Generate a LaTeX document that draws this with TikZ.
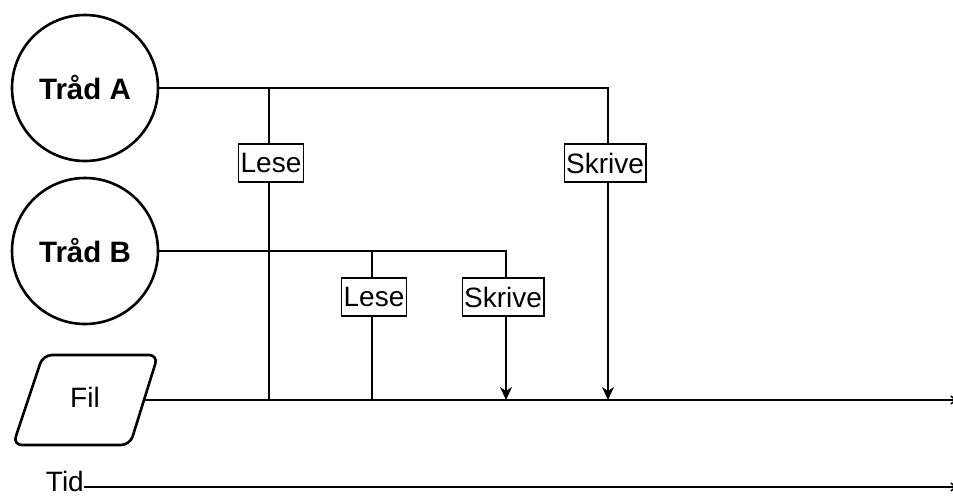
\documentclass[tikz,border=0pt]{standalone}
\usepackage{fontspec}
\setmainfont{Liberation Sans}
\usetikzlibrary{arrows.meta}
\begin{document}
\begin{tikzpicture}[x=1pt,y=-1pt,
  thread/.style={circle,draw,line width=2.6pt,minimum size=146pt,inner sep=0pt,
                 font=\fontsize{29.5}{33}\selectfont\bfseries},
  op/.style={draw,fill=white,line width=1.2pt,inner sep=2pt,minimum height=38pt,
             font=\fontsize{28}{32}\selectfont},
  wire/.style={line width=1.5pt},
  hit/.style={wire,-{Stealth[length=13pt,width=12pt,inset=4pt]}},
  axis/.style={wire,-{Straight Barb[length=5pt,width=8pt]}},
  lbl/.style={font=\fontsize{28}{32}\selectfont,inner sep=0pt}]
\useasboundingbox (0,0) rectangle (953,496);

% threads
\node[thread] (tA) at (85,88) {Tråd A};
\node[thread] (tB) at (85,251) {Tråd B};

% file symbol
\draw[line width=2.6pt,rounded corners=9pt]
  (43,355) -- (158,355) -- (130,445) -- (13,445) -- cycle;
\node[lbl] (fil) at (85,397) {Fil};
\coordinate (filR) at (144,400);
\coordinate (filEnd) at (957,400);

% time axis
\node[lbl,anchor=base east] (tid) at (84,491.5) {Tid};
\coordinate (tidEnd) at (957,487);
\draw[axis] (tid.east |- 0,487) -- (tidEnd);

% operations
\node[op] (lA) at (271,163) {Lese};
\node[op] (sA) at (605,163) {Skrive};
\node[op] (lB) at (374,297) {Lese};
\node[op] (sB) at (503,297) {Skrive};

\coordinate (jA) at (269,88);
\coordinate (jB) at (372,251);
\coordinate (rA) at (608,88);
\coordinate (rB) at (506,251);
\coordinate (fA) at (269,400);
\coordinate (fB) at (372,400);
\coordinate (wA) at (608,400);
\coordinate (wB) at (506,400);

% file timeline
\draw[axis] (filR) -- (filEnd);

% thread A
\draw[wire] (tA.east |- jA) -- (jA) -- (rA) -- (rA |- sA.north);
\draw[wire] (jA) -- (jA |- lA.north);
\draw[wire] (jA |- lA.south) -- (fA);
\draw[hit] (rA |- sA.south) -- (wA);

% thread B
\draw[wire] (tB.east |- jB) -- (jB) -- (rB) -- (rB |- sB.north);
\draw[wire] (jB) -- (jB |- lB.north);
\draw[wire] (jB |- lB.south) -- (fB);
\draw[hit] (rB |- sB.south) -- (wB);

% labels on top of the wires
\node[op] at (lA) {Lese};
\node[op] at (sA) {Skrive};
\node[op] at (lB) {Lese};
\node[op] at (sB) {Skrive};
\end{tikzpicture}
\end{document}
